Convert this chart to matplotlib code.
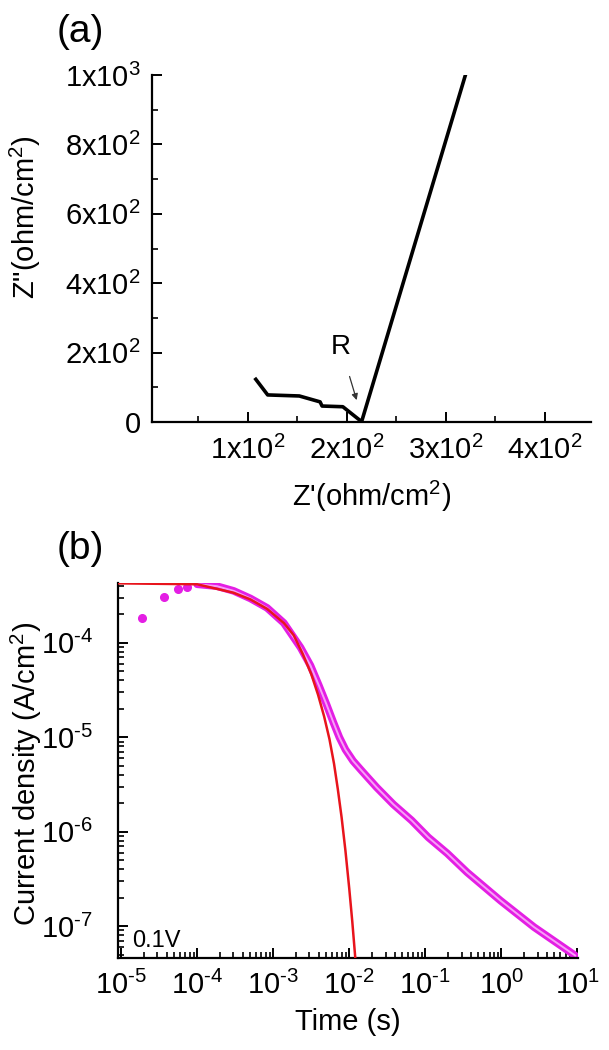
import matplotlib
matplotlib.use('Agg')
import numpy as np
import matplotlib.pyplot as plt
from matplotlib.ticker import FixedLocator, LogLocator, NullFormatter

plt.rcParams['font.family'] = ['Liberation Sans', 'DejaVu Sans']
plt.rcParams['mathtext.fontset'] = 'custom'
plt.rcParams['mathtext.rm'] = 'Liberation Sans'
plt.rcParams['mathtext.default'] = 'regular'

# (a) impedance curve
z_real = [108, 120, 152, 173, 175, 196, 215, 320]
z_imag = [123, 78, 75, 58, 46, 44, 1, 1000]
a_xticks = [100, 200, 300, 400]
a_xlabels = ['1x10$^2$', '2x10$^2$', '3x10$^2$', '4x10$^2$']
a_yticks = [0, 200, 400, 600, 800, 1000]
a_ylabels = ['0', '2x10$^2$', '4x10$^2$', '6x10$^2$', '8x10$^2$', '1x10$^3$']

# (b) current transient, read as log10 values (time in s, current in A/cm2)
log_t_first = [-4.72, -4.43, -4.25, -4.13]
log_j_first = [-3.74, -3.51, -3.43, -3.41]
log_t_meas = [-4.00, -3.74, -3.52, -3.30, -3.08, -2.86, -2.64, -2.51, -2.40, -2.30,
              -2.21, -2.13, -2.05, -1.95, -1.83, -1.64, -1.42, -1.18, -0.96, -0.71,
              -0.45, -0.01, 0.43, 0.97]
log_j_meas = [-3.38, -3.40, -3.45, -3.53, -3.63, -3.79, -4.05, -4.24, -4.45, -4.65,
              -4.84, -5.00, -5.13, -5.25, -5.36, -5.53, -5.71, -5.88, -6.06, -6.23,
              -6.43, -6.73, -7.01, -7.31]
log_t_fit = [-5.05, -4.00, -3.52, -3.30, -3.08, -2.86, -2.73, -2.61, -2.50, -2.41,
             -2.33, -2.26, -2.20, -2.15, -2.10, -2.05, -2.00, -1.96, -1.92]
log_j_fit = [-3.37, -3.38, -3.47, -3.54, -3.64, -3.79, -3.92, -4.12, -4.33, -4.55,
             -4.78, -5.02, -5.28, -5.55, -5.85, -6.20, -6.60, -6.95, -7.34]
b_xticks = [1e-5, 1e-4, 1e-3, 1e-2, 1e-1, 1e0, 1e1]
b_xlabels = ['10$^{‐5}$', '10$^{‐4}$', '10$^{‐3}$', '10$^{‐2}$', '10$^{‐1}$', '10$^{0}$', '10$^{1}$']
b_yticks = [1e-7, 1e-6, 1e-5, 1e-4]
b_ylabels = ['10$^{‐7}$', '10$^{‐6}$', '10$^{‐5}$', '10$^{‐4}$']

W, H = 609, 1050
fig = plt.figure(figsize=(W / 100, H / 100), dpi=100)

def axes_px(l, t, r, b):
    return fig.add_axes([l / W, 1 - b / H, (r - l) / W, (b - t) / H])

def style(ax):
    for s in ('top', 'right'):
        ax.spines[s].set_visible(False)
    for s in ('left', 'bottom'):
        ax.spines[s].set_linewidth(1.6)
    ax.tick_params(which='major', direction='in', length=7, width=1.4, labelsize=21)
    ax.tick_params(which='minor', direction='in', length=4, width=1.2)

# ---- panel (a)
ax1 = axes_px(152, 75, 591, 422)
ax1.plot(z_real, z_imag, color='black', lw=2.6, solid_joinstyle='round')
ax1.set_xlim(3, 447)
ax1.set_ylim(0, 1000)
ax1.set_xticks(a_xticks)
ax1.set_xticklabels(a_xlabels)
ax1.set_yticks(a_yticks)
ax1.set_yticklabels(a_ylabels)
ax1.xaxis.set_minor_locator(FixedLocator([50, 150, 250, 350]))
ax1.yaxis.set_minor_locator(FixedLocator([100, 300, 500, 700, 900]))
style(ax1)
ax1.tick_params(axis='x', which='major', pad=10)
ax1.tick_params(axis='y', which='major', pad=8)
ax1.annotate('R', xy=(210, 63), xytext=(194, 215), fontsize=20, ha='center', va='center',
             arrowprops=dict(arrowstyle='-|>', color='#333333', lw=0.9, shrinkA=10, shrinkB=0,
                             mutation_scale=9))
ax1.set_xlabel("Z'(ohm/cm$^2$)", fontsize=21, labelpad=10)
ax1.set_ylabel('Z"(ohm/cm$^2$)', fontsize=21)
ax1.yaxis.set_label_coords((43 - 152) / 439, 0.59)
fig.text(80 / W, 1 - 32 / H, '(a)', fontsize=28, ha='center', va='center')

# ---- panel (b)
t_meas = 10 ** np.array(log_t_meas)
j_meas = 10 ** np.array(log_j_meas)
ax2 = axes_px(118, 583, 578, 958)
ax2.set_xscale('log')
ax2.set_yscale('log')
ax2.plot(t_meas, j_meas, color='#e41ee4', lw=5.5, solid_capstyle='round',
         solid_joinstyle='round', zorder=2)
ax2.plot(t_meas, j_meas, color='#f7a0f7', lw=1.4, zorder=3)
ax2.plot(10 ** np.array(log_t_first), 10 ** np.array(log_j_first), 'o',
         color='#e41ee4', ms=5.5, zorder=3)
ax2.plot(10 ** np.array(log_t_fit), 10 ** np.array(log_j_fit), color='#e8141c', lw=1.8,
         solid_joinstyle='round', zorder=4)
ax2.set_xlim(9.1e-6, 10.2)
ax2.set_ylim(4.6e-8, 4.3e-4)
ax2.set_xticks(b_xticks)
ax2.set_xticklabels(b_xlabels)
ax2.set_yticks(b_yticks)
ax2.set_yticklabels(b_ylabels)
ax2.xaxis.set_minor_locator(LogLocator(base=10, subs=range(2, 10), numticks=20))
ax2.yaxis.set_minor_locator(LogLocator(base=10, subs=range(2, 10), numticks=20))
ax2.xaxis.set_minor_formatter(NullFormatter())
ax2.yaxis.set_minor_formatter(NullFormatter())
style(ax2)
ax2.tick_params(axis='x', which='major', pad=9)
ax2.tick_params(axis='y', which='major', pad=18)
ax2.text(0.03, 0.045, '0.1V', transform=ax2.transAxes, fontsize=17, va='center')
ax2.set_xlabel('Time (s)', fontsize=21, labelpad=6)
ax2.set_ylabel('Current density (A/cm$^2$)', fontsize=21)
ax2.yaxis.set_label_coords((44 - 118) / 460, 0.49)
fig.text(80 / W, 1 - 549 / H, '(b)', fontsize=28, ha='center', va='center')

fig.savefig('out.png', dpi=100, facecolor='white')
